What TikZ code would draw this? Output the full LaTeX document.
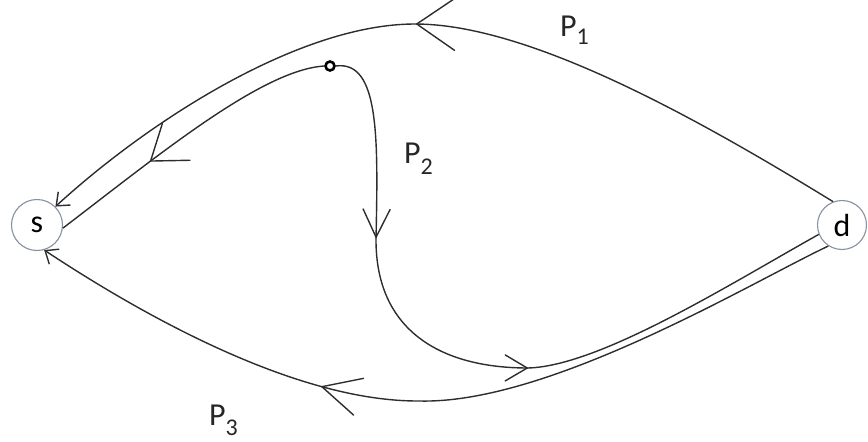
\documentclass[tikz,border=0pt]{standalone}
\usepackage{fontspec}
\setmainfont{Carlito}
\usetikzlibrary{arrows.meta,decorations.markings}
\definecolor{circ}{RGB}{135,145,160}
\definecolor{ln}{RGB}{45,45,45}
\newcommand\Psub[2]{P\raisebox{-#2pt}{\fontsize{24}{24}\selectfont #1}}
\tikzset{
  x=1pt, y=-1pt,
  endnode/.style={circle, draw=circ, line width=1.1pt, inner sep=0pt, fill=white,
    font=\fontsize{32}{38}\selectfont},
  dotnode/.style={circle, draw=black, line width=2.6pt, inner sep=0pt, minimum size=9pt, fill=white},
  lbl/.style={anchor=base west, inner sep=0pt, font=\fontsize{32}{38}\selectfont, text=black!85},
  pathline/.style={draw=ln, line width=1.4pt},
  endbarb/.style={-{Straight Barb[length=11pt,width=18pt,line width=1.4pt]}},
  barbat/.style n args={3}{postaction={decorate, decoration={markings,
     mark=at position #1 with {\draw[-, ln, line width=1.4pt, line cap=round] (-#2,#3) -- (0,0) -- (-#2,-#3);}}}}
}
\begin{document}
\begin{tikzpicture}
\useasboundingbox (0,0) rectangle (868,442);
\node[endnode, minimum size=51pt] (s) at (37,225) {s};
\node[endnode, minimum size=49pt] (d) at (842,225) {d};
\node[dotnode] (m) at (330,66) {};
\node[lbl] (p1) at (560,36) {\Psub{1}{8}};
\node[lbl] (p2) at (404,163) {\Psub{2}{11}};
\node[lbl] (p3) at (209,425) {\Psub{3}{10}};
% P1
\draw[pathline, endbarb, barbat={457pt}{38}{26}]
  (d.111) .. controls (700,120) and (530,24) .. (415,24)
          .. controls (300,24) and (150,120) .. (s.45);
% P2 left part
\draw[pathline, barbat={200pt}{32}{23}]
  (m.west) .. controls (262,70) and (160,154) .. (s.-7);
% P2 right part
\draw[pathline, barbat={192pt}{28}{13.5}, barbat={420pt}{22}{13}]
  (m.east) .. controls (380,60) and (378,140) .. (376,240)
           .. controls (376,330) and (440,368) .. (528,368)
           .. controls (600,366) and (730,284) .. (d.202);
% P3
\draw[pathline, endbarb, barbat={540pt}{38}{19}]
  (d.237) .. controls (752,282) and (550,404) .. (420,401)
          .. controls (300,402) and (150,320) .. (s.-74);
\end{tikzpicture}
\end{document}
